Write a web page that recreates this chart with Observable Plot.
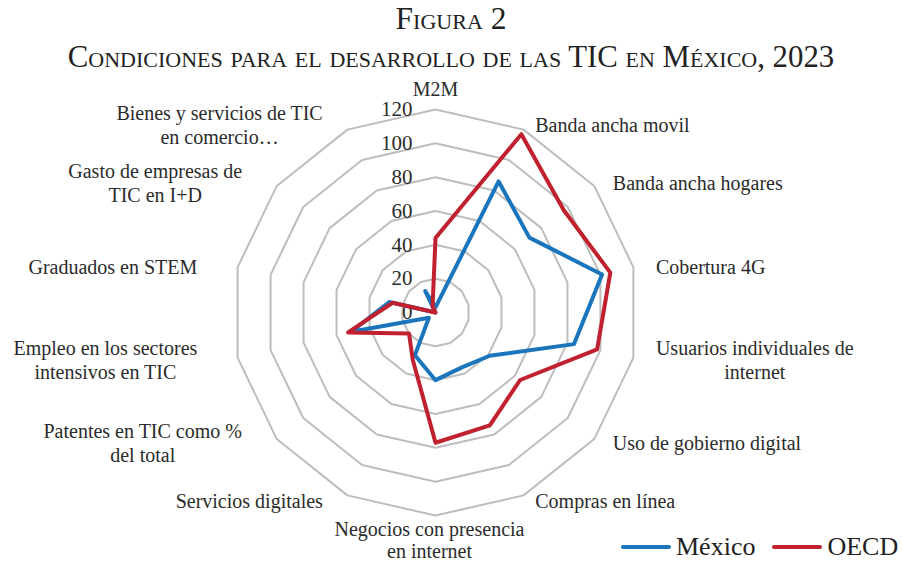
<!DOCTYPE html>
<html>
<head>
<meta charset="utf-8">
<script src="https://cdn.jsdelivr.net/npm/d3@7"></script>
<script src="https://cdn.jsdelivr.net/npm/@observablehq/plot@0.6"></script>
<style>
  html, body { margin: 0; padding: 0; background: #fff; }
  #wrap { position: relative; width: 902px; height: 563px; overflow: hidden; font-family: "Liberation Serif", serif; color: #2b2b2b; }
  #title { position: absolute; top: 0; left: 0; width: 902px; text-align: center; font-variant: small-caps; color: #222; }
  #t1 { font-size: 31.5px; line-height: 34px; margin-top: 2px; }
  #t2 { font-size: 30.8px; line-height: 38px; margin-top: 2px; }
  #chart { position: absolute; top: 78px; left: 0; }
  #legend { position: absolute; left: 621px; top: 532px; font-size: 26px; color: #222; display: flex; align-items: center; white-space: nowrap; }
  #legend .sw { display: inline-block; width: 50px; height: 4px; border-radius: 2px; margin-right: 5px; }
  #legend .item { display: flex; align-items: center; margin-right: 17px; }
</style>
</head>
<body>
<div id="wrap">
  <div id="title">
    <div id="t1">Figura 2</div>
    <div id="t2">Condiciones para el desarrollo de las TIC en México, 2023</div>
  </div>
  <div id="chart"></div>
  <div id="legend"></div>
</div>
<script>
// ---- data ----
const categories = [
  "M2M",
  "Banda ancha movil",
  "Banda ancha hogares",
  "Cobertura 4G",
  "Usuarios individuales de\ninternet",
  "Uso de gobierno digital",
  "Compras en línea",
  "Negocios con presencia\nen internet",
  "Servicios digitales",
  "Patentes en TIC como %\ndel total",
  "Empleo en los sectores\nintensivos en TIC",
  "Graduados en STEM",
  "Gasto de empresas de\nTIC en I+D",
  "Bienes y servicios de TIC\nen comercio…"
];
const mexico = [3, 86, 71, 101, 84, 41, 36, 40, 28, 5, 51, 28, 0, 14];
const oecd   = [44, 117, 97, 106, 98, 64, 74, 77, 31, 20, 53, 26, 0, 4];
const tickValues = [0, 20, 40, 60, 80, 100, 120];
const seriesNames = ["México", "OECD"];
const seriesColors = ["#1a75bc", "#c1202f"];

// ---- layout ----
const W = 902, H = 485;
const cx = 435, cy = 234;          // centre in SVG pixels
const R = 203;                      // pixel radius of max tick
const maxV = d3.max(tickValues);
const k = maxV / R;                 // data units per pixel
const n = categories.length;
const ang = i => i * 2 * Math.PI / n;

const polar = (v, i) => ({x: v * Math.sin(ang(i)), y: v * Math.cos(ang(i))});

// rings
const rings = tickValues.filter(t => t > 0).flatMap(t =>
  categories.map((c, i) => ({r: t, ...polar(t, i)})));

// series
const seriesData = [mexico, oecd].map((vals, s) =>
  vals.map((v, i) => ({s: seriesNames[s], ...polar(v, i)})));

// label placement
const labelFont = 20, labelFontFamily = "Liberation Serif";
const ctx = document.createElement("canvas").getContext("2d");
ctx.font = `${labelFont}px "${labelFontFamily}"`;
const labels = categories.map((c, i) => {
  const a = ang(i), s = Math.sin(a), co = Math.cos(a);
  const lines = c.split("\n");
  const maxW = d3.max(lines, l => ctx.measureText(l).width);
  let px, py, lineAnchor = "middle";
  if (Math.abs(s) < 0.05) {
    px = 0;
    if (co > 0) { py = -R - 14; lineAnchor = "bottom"; }
    else { py = R + 5; lineAnchor = "top"; px = -6; }
  } else {
    const pad = s > 0 ? 3 + 20 * Math.abs(s) : 12 + 29 * Math.abs(s);
    px = R * s + Math.sign(s) * (pad + maxW / 2);
    py = -R * co - 6 * co;
  }
  return {label: c, x: px * k, y: -py * k, lineAnchor};
});

const textStyle = {fontSize: labelFont, fontFamily: labelFontFamily, fill: "#2b2b2b", textAnchor: "middle"};

const chart = Plot.plot({
  width: W, height: H, margin: 0,
  x: {domain: [-cx * k, (W - cx) * k], axis: null},
  y: {domain: [-(H - cy) * k, cy * k], axis: null},
  marks: [
    Plot.line(rings, {x: "x", y: "y", z: "r", curve: "linear-closed", stroke: "#bdbdbd", strokeWidth: 2}),
    Plot.text(tickValues, {x: 0, y: d => d, text: d => String(d), textAnchor: "end", dx: -23,
      fontSize: 21, fontFamily: labelFontFamily, fill: "#2b2b2b"}),
    ...seriesData.map((d, s) => Plot.line(d, {x: "x", y: "y", curve: "linear-closed",
      stroke: seriesColors[s], strokeWidth: 4, strokeLinejoin: "round"})),
    Plot.text(labels.filter(d => d.lineAnchor === "middle"), {x: "x", y: "y", text: "label",
      lineAnchor: "middle", lineHeight: 1.2, ...textStyle}),
    Plot.text(labels.filter(d => d.lineAnchor === "bottom"), {x: "x", y: "y", text: "label",
      lineAnchor: "bottom", ...textStyle}),
    Plot.text(labels.filter(d => d.lineAnchor === "top"), {x: "x", y: "y", text: "label",
      lineAnchor: "top", lineHeight: 1.1, ...textStyle})
  ]
});
chart.style.overflow = "visible";
document.getElementById("chart").appendChild(chart);

const legend = document.getElementById("legend");
seriesNames.forEach((name, s) => {
  const item = document.createElement("span");
  item.className = "item";
  const sw = document.createElement("span");
  sw.className = "sw";
  sw.style.background = seriesColors[s];
  item.appendChild(sw);
  item.appendChild(document.createTextNode(name));
  legend.appendChild(item);
});
</script>
</body>
</html>
